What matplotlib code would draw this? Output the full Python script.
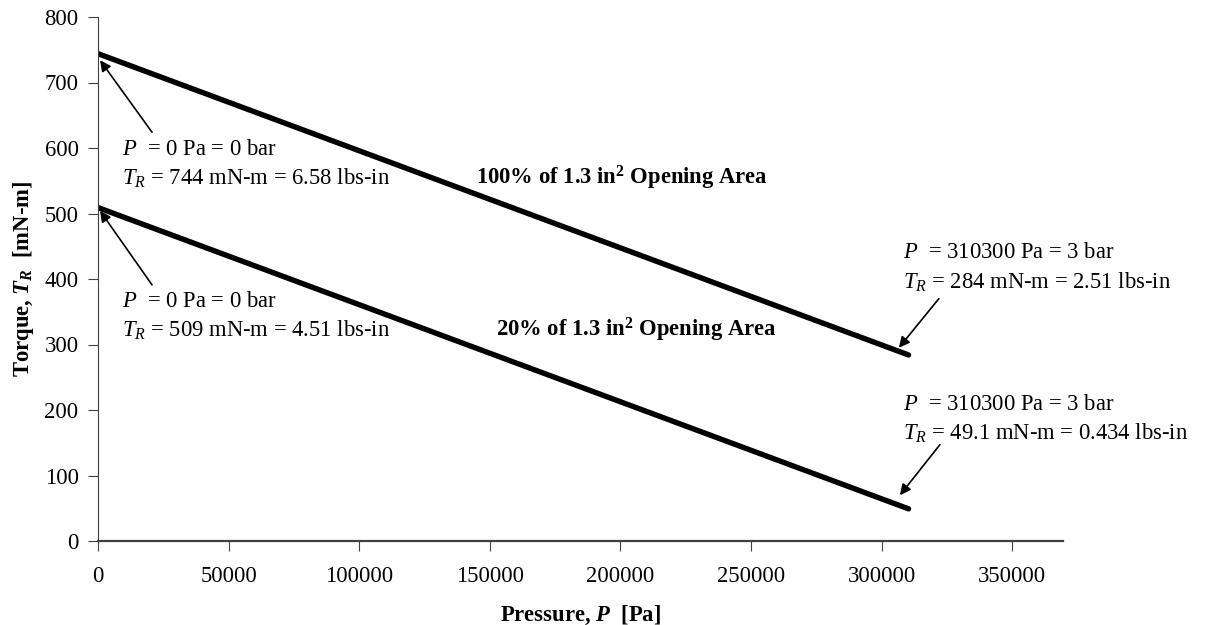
import matplotlib
matplotlib.use("Agg")
import matplotlib.pyplot as plt

# fonts: Times-like look
plt.rcParams['font.family'] = ['Liberation Serif', 'DejaVu Serif']
plt.rcParams['mathtext.fontset'] = 'custom'
plt.rcParams['mathtext.rm'] = 'Liberation Serif'
plt.rcParams['mathtext.it'] = 'Liberation Serif:italic'
plt.rcParams['mathtext.bf'] = 'Liberation Serif:bold'
plt.rcParams['mathtext.bfit'] = 'Liberation Serif:italic:bold'

# data
pressure = [0, 310300]            # Pa
torque_100 = [744, 284]           # mN-m, 100% opening
torque_20 = [509, 49.1]           # mN-m, 20% opening
x_ticks = [0, 50000, 100000, 150000, 200000, 250000, 300000, 350000]
y_ticks = [0, 100, 200, 300, 400, 500, 600, 700, 800]

fig = plt.figure(figsize=(12.12, 6.25), dpi=100)
ax = fig.add_axes([0.0809, 0.1344, 0.7961, 0.8384])

ax.plot(pressure, torque_100, color="black", lw=3.9, solid_capstyle="round")
ax.plot(pressure, torque_20, color="black", lw=3.9, solid_capstyle="round")

ax.set_xlim(0, 369400)
ax.set_ylim(0, 800)
ax.set_xticks(x_ticks)
ax.set_yticks(y_ticks)
ax.tick_params(axis="x", direction="out", length=7, pad=11, labelsize=16.3, color="#404040")
ax.tick_params(axis="y", direction="out", length=7, pad=7, labelsize=16.3, color="#404040")
for s in ["top", "right"]:
    ax.spines[s].set_visible(False)
ax.spines["left"].set_color("#404040")
ax.spines["bottom"].set_color("#404040")
ax.spines["bottom"].set_linewidth(1.6)

ax.set_xlabel(r"Pressure, $\mathbfit{P}$  [Pa]", fontsize=16.3, fontweight="bold", labelpad=12)
ax.set_ylabel(r"Torque, $\mathbfit{T}_{\mathbfit{R}}$  [mN-m]", fontsize=16.3, fontweight="bold", labelpad=6)

fs = 16.3
arrow = dict(arrowstyle="-|>", color="black", lw=1.2, mutation_scale=16, shrinkA=0, shrinkB=0)

# upper-left annotation
ax.text(9190, 597, r"$P$  = 0 Pa = 0 bar", fontsize=fs, va="center")
ax.text(9190, 554, r"$T_R$ = 744 mN-m = 6.58 lbs-in", fontsize=fs, va="center")
ax.annotate("", xy=(766, 734), xytext=(20670, 624), arrowprops=arrow)

# lower-left annotation
ax.text(9190, 365, r"$P$  = 0 Pa = 0 bar", fontsize=fs, va="center")
ax.text(9190, 322, r"$T_R$ = 509 mN-m = 4.51 lbs-in", fontsize=fs, va="center")
ax.annotate("", xy=(766, 504), xytext=(20670, 391), arrowprops=arrow)

# upper-right annotation
ax.text(308200, 440, r"$P$  = 310300 Pa = 3 bar", fontsize=fs, va="center")
ax.text(308200, 395, r"$T_R$ = 284 mN-m = 2.51 lbs-in", fontsize=fs, va="center")
ax.annotate("", xy=(306600, 295), xytext=(321900, 370), arrowprops=arrow)

# lower-right annotation
ax.text(308200, 209, r"$P$  = 310300 Pa = 3 bar", fontsize=fs, va="center")
ax.text(308200, 165, r"$T_R$ = 49.1 mN-m = 0.434 lbs-in", fontsize=fs, va="center")
ax.annotate("", xy=(307000, 70), xytext=(322300, 147), arrowprops=arrow)

# series labels
ax.text(200600, 554, r"100% of 1.3 in$^{\mathbf{2}}$ Opening Area", fontsize=16.3,
        fontweight="bold", ha="center", va="center")
ax.text(206000, 322, r"20% of 1.3 in$^{\mathbf{2}}$ Opening Area", fontsize=16.3,
        fontweight="bold", ha="center", va="center")

fig.savefig("out.png", dpi=100)
